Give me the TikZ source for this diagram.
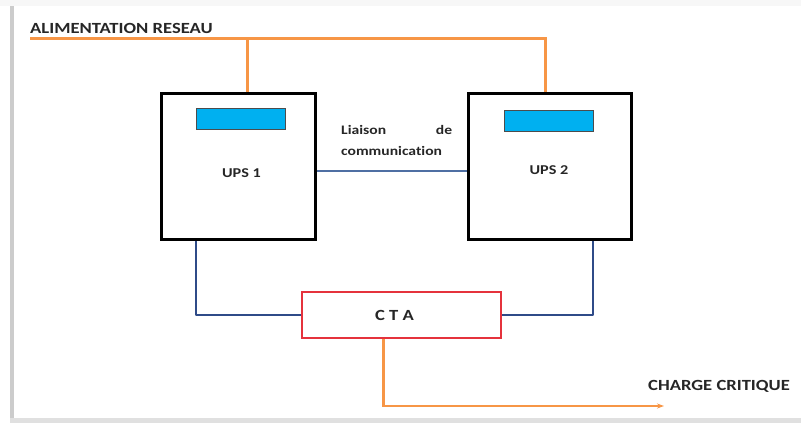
\documentclass[tikz,border=0pt]{standalone}
\usepackage{fontspec}
\setmainfont{Carlito}[FakeStretch=1.2,Ligatures=NoCommon]
\usetikzlibrary{arrows.meta}
\definecolor{mainsorange}{HTML}{F79646}
\definecolor{busblue}{HTML}{2F4B88}
\definecolor{linkblue}{HTML}{4F6FA3}
\definecolor{screenblue}{HTML}{00B0F0}
\definecolor{ctared}{HTML}{E5323C}

\begin{document}
\begin{tikzpicture}[x=1pt,y=-1pt,
  upsbox/.style={draw=black,line width=3pt,minimum width=154pt,minimum height=146pt,inner sep=0pt},
  screen/.style={draw=black!70,line width=0.6pt,fill=screenblue,minimum width=89pt,minimum height=21pt,inner sep=0pt},
  ctabox/.style={draw=ctared,line width=1.8pt,minimum width=199pt,minimum height=46pt,inner sep=0pt},
  mains/.style={draw=mainsorange,line width=3pt},
  bus/.style={draw=busblue,line width=2.5pt,line join=round},
  link/.style={draw=linkblue,line width=1.2pt},
  lbl/.style={font=\bfseries\fontsize{15.5}{18}\selectfont,text=black!85,inner sep=0pt}]
\useasboundingbox (0,0) rectangle (801,423);
\fill[black!3] (0,0) rectangle (801,6);
\fill[black!20] (10,6) rectangle (14,423);
\fill[black!12] (10,418) rectangle (801,423);

\node[upsbox] (ups1) at (238.5,166.5) {};
\node[upsbox,minimum width=163pt] (ups2) at (550,166.5) {};
\node[screen] (scr1) at ([xshift=2pt,yshift=-27pt]ups1.north) {};
\node[screen] (scr2) at ([xshift=-1pt,yshift=-29pt]ups2.north) {};
\node[lbl,font=\bfseries\fontsize{13.5}{16}\selectfont] (ups1txt) at ([xshift=3pt,yshift=-7pt]ups1.center) {UPS 1};
\node[lbl,font=\bfseries\fontsize{13.5}{16}\selectfont] (ups2txt) at ([xshift=-1pt,yshift=-4pt]ups2.center) {UPS 2};
\node[ctabox] (cta) at (401.5,315) {};
\node[lbl] (ctatxt) at ([xshift=-7pt]cta.center) {C T A};

\node[lbl,anchor=base west] (mainstxt) at (30,33) {ALIMENTATION RESEAU};
\node[lbl,anchor=base west] (loadtxt) at (648,390) {CHARGE CRITIQUE};
\node[lbl,font=\bfseries\fontsize{13}{21}\selectfont,text width=111pt,align=left,anchor=base west]
  (linktxt) at (341,134) {Liaison\hfill de\\communication};

\coordinate (feedL) at (30,38);
\coordinate (load) at (664,406);

\draw[mains] (feedL) -| ([xshift=-5pt]ups2.north);
\draw[mains] ([xshift=8.5pt]ups1.north) -- ([xshift=8.5pt]ups1.north |- feedL);
\draw[link] (ups1.east |- 0,171) -- (ups2.west |- 0,171);
\draw[bus] ([xshift=-42.5pt]ups1.south) |- (cta.west);
\draw[bus] ([xshift=43pt]ups2.south) |- (cta.east);
\draw[mains] ([xshift=-18.5pt]cta.south) -- ([xshift=-18.5pt]cta.south |- load);
\draw[mains,line width=2pt,-{Stealth[length=7pt,width=5pt]}] ([xshift=-19.5pt]cta.south |- load) -- (load);
\end{tikzpicture}
\end{document}
